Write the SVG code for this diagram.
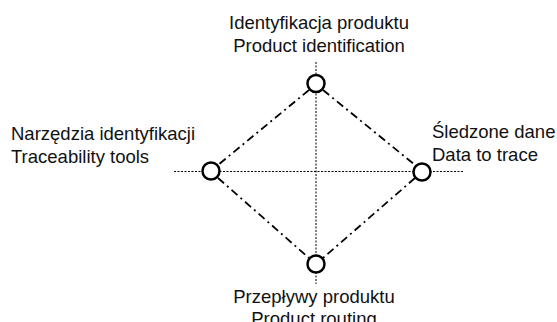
<svg xmlns="http://www.w3.org/2000/svg" width="557" height="322" viewBox="0 0 557 322">
<style>
.axis{stroke:#000;stroke-width:1;stroke-dasharray:2 1.5;fill:none}
.edge{stroke:#000;stroke-width:1.8;stroke-dasharray:8 4 2 4;fill:none}
.node{fill:#fff;stroke:#000;stroke-width:2.5}
text{font-family:"Liberation Sans",Arial,sans-serif;font-size:18.5px;fill:#111}
</style>
<rect width="557" height="322" fill="#fff"/>
<g id="connectors">
<line class="axis" x1="316" y1="62" x2="316" y2="284"/>
<line class="axis" x1="174" y1="171.5" x2="463" y2="171.5"/>
<line class="edge" x1="309" y1="90" x2="218" y2="165"/>
<line class="edge" x1="323" y1="90" x2="415" y2="165"/>
<line class="edge" x1="218" y1="178" x2="309" y2="258"/>
<line class="edge" x1="415" y1="178" x2="323" y2="258"/>
</g>
<g id="node-top">
<circle class="node" cx="316" cy="83.5" r="8.5"/>
<text x="319" y="28.5" text-anchor="middle">Identyfikacja produktu</text>
<text x="319" y="51.5" text-anchor="middle">Product identification</text>
</g>
<g id="node-left">
<circle class="node" cx="211" cy="171" r="8.5"/>
<text x="11" y="139.5">Narzędzia identyfikacji</text>
<text x="11" y="162.5">Traceability tools</text>
</g>
<g id="node-right">
<circle class="node" cx="422" cy="172" r="8.5"/>
<text x="432" y="137.5">Śledzone dane</text>
<text x="432" y="160.5">Data to trace</text>
</g>
<g id="node-bottom">
<circle class="node" cx="316" cy="264" r="8.5"/>
<text x="314" y="302.5" text-anchor="middle">Przepływy produktu</text>
<text x="314" y="325" text-anchor="middle">Product routing</text>
</g>
</svg>
